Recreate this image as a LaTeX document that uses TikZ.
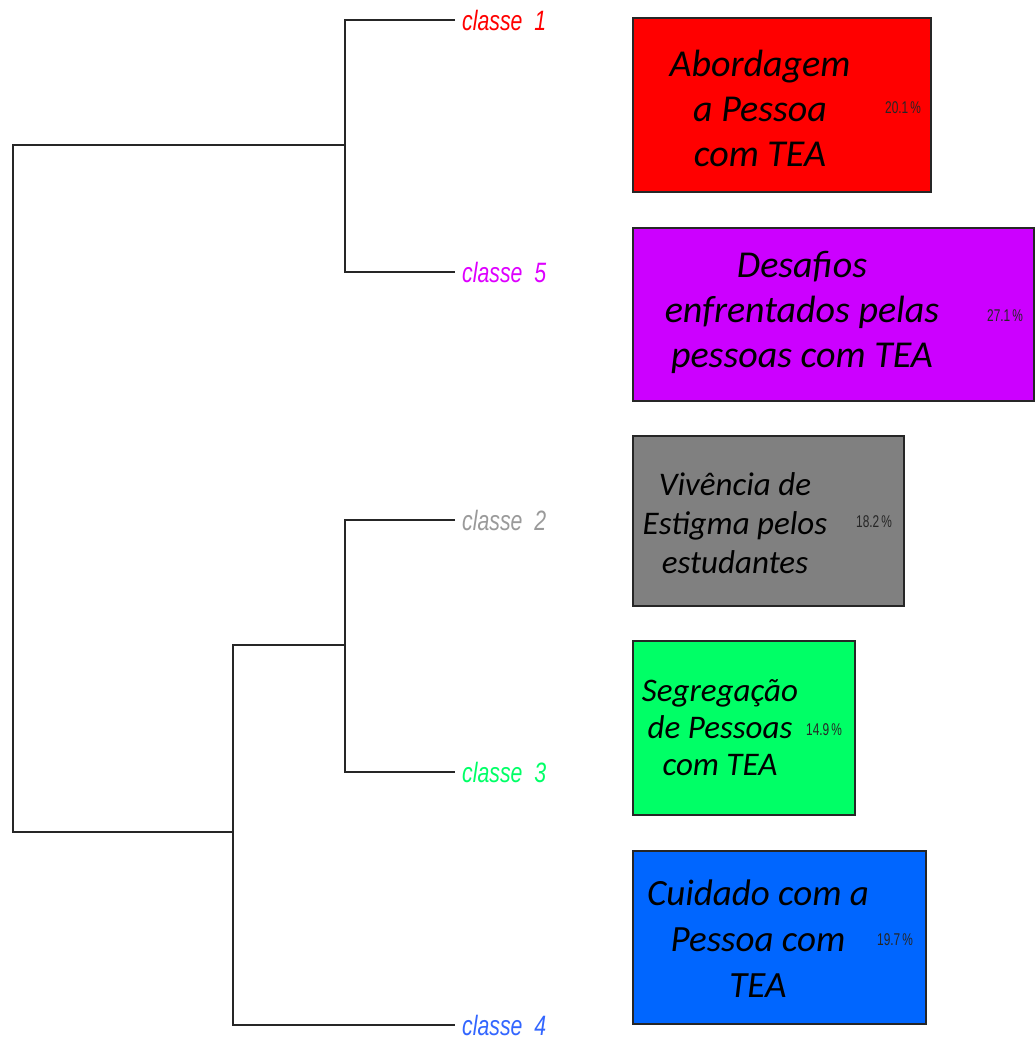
\documentclass[tikz,border=0pt]{standalone}
\usepackage{fontspec}
\setmainfont{Carlito}
\newfontfamily\arialfont{Liberation Sans}

\definecolor{cred}{HTML}{FF0000}
\definecolor{cpurple}{HTML}{CC00FF}
\definecolor{cgray}{HTML}{808080}
\definecolor{cgreen}{HTML}{00FF66}
\definecolor{cblue}{HTML}{0066FF}
\definecolor{lpurple}{HTML}{DD00FF}
\definecolor{lgray}{HTML}{9A9A9A}
\definecolor{lblue}{HTML}{3366FF}

\newcommand{\cls}[1]{\scalebox{0.76}[1]{classe~ #1}}
\newcommand{\pc}[1]{\scalebox{0.7}[1]{#1\,\%}}

\tikzset{
	tree/.style={line width=2pt, black!85},
	cls/.style={anchor=west, inner xsep=7pt, inner ysep=0pt, font=\arialfont\itshape\fontsize{28}{28}\selectfont},
	box/.style={draw=black!85, line width=1.6pt, anchor=north west, inner sep=0pt},
	boxtext/.style={align=center, font=\itshape\fontsize{38}{45}\selectfont},
	pct/.style={font=\arialfont\fontsize{17}{17}\selectfont, text=black!85}
}

\begin{document}
\begin{tikzpicture}[x=1pt, y=-1pt]
	\useasboundingbox (0, 0) rectangle (1035, 1043);

	\node[cls, text=cred] (l1) at (455, 20) {\cls{1}};
	\node[cls, text=lpurple] (l5) at (455, 272) {\cls{5}};
	\node[cls, text=lgray] (l2) at (455, 520) {\cls{2}};
	\node[cls, text=cgreen] (l3) at (455, 772) {\cls{3}};
	\node[cls, text=lblue] (l4) at (455, 1025) {\cls{4}};

	\coordinate (a15) at (345, 145);
	\coordinate (a23) at (345, 645);
	\coordinate (a234) at (233, 832);
	\coordinate (root) at (13, 500);

	\draw[tree] (l1.west) -| (a15) |- (l5.west);
	\draw[tree] (l2.west) -| (a23) |- (l3.west);
	\draw[tree] (a23) -| (a234) |- (l4.west);
	\draw[tree] (a15) -| (root) |- (a234);

	\node[box, fill=cred, minimum width=298pt, minimum height=174pt] (b1) at (632, 17) {};
	\node[box, fill=cpurple, minimum width=401pt, minimum height=173pt] (b5) at (632, 227) {};
	\node[box, fill=cgray, minimum width=271pt, minimum height=170pt] (b2) at (632, 435) {};
	\node[box, fill=cgreen, minimum width=222pt, minimum height=174pt] (b3) at (632, 640) {};
	\node[box, fill=cblue, minimum width=293pt, minimum height=173pt] (b4) at (632, 850) {};

	\node[boxtext] (t1) at (760, 108) {Abordagem\\a Pessoa\\com TEA};
	\node[boxtext] (t5) at (802, 312) {Desafios\\enfrentados pelas\\pessoas com TEA};
	\node[boxtext, font=\itshape\fontsize{33}{39}\selectfont] (t2) at (735, 523) {Vivência de\\Estigma pelos\\estudantes};
	\node[boxtext, font=\itshape\fontsize{33}{37}\selectfont] (t3) at (720, 728) {Segregação\\de Pessoas\\com TEA};
	\node[boxtext, font=\itshape\fontsize{37}{46}\selectfont] (t4) at (758, 939) {Cuidado com a\\Pessoa com\\TEA};

	\node[pct] (p1) at (903, 108) {\pc{20.1}};
	\node[pct] (p5) at (1005, 316) {\pc{27.1}};
	\node[pct] (p2) at (874, 522) {\pc{18.2}};
	\node[pct] (p3) at (824, 730) {\pc{14.9}};
	\node[pct] (p4) at (895, 940) {\pc{19.7}};

\end{tikzpicture}
\end{document}
